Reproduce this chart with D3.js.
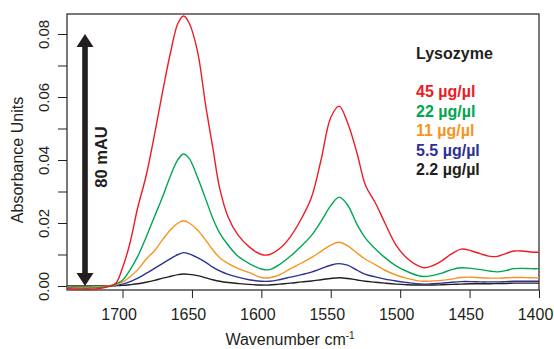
<!DOCTYPE html>
<html>
<head>
<meta charset="utf-8">
<script src="https://cdn.jsdelivr.net/npm/d3@7"></script>
<style>
  body { margin: 0; background: #fff; }
  svg text { font-family: "Liberation Sans", Arial, sans-serif; fill: #231f20; }
</style>
</head>
<body>
<div id="chart"></div>
<script>
var wavenumbers = [1740, 1725, 1712, 1705, 1700, 1695, 1689, 1683, 1677, 1671, 1665, 1660, 1656, 1652, 1646, 1640, 1635, 1630, 1624, 1617, 1609, 1600, 1594, 1587, 1579, 1571, 1564, 1557, 1550, 1544, 1538, 1531, 1525, 1518, 1511, 1503, 1495, 1488, 1483, 1477, 1470, 1463, 1456, 1449, 1442, 1435, 1430, 1424, 1418, 1412, 1406, 1400];

var abs45 = [-0.0008, -0.0011, -0.0004, 0.0008, 0.0058, 0.013, 0.025, 0.035, 0.048, 0.062, 0.075, 0.0835, 0.0857, 0.0835, 0.0745, 0.057, 0.044, 0.031, 0.022, 0.0163, 0.0125, 0.0100, 0.0100, 0.0118, 0.0157, 0.0215, 0.028, 0.040, 0.0535, 0.0571, 0.052, 0.042, 0.032, 0.0265, 0.020, 0.013, 0.0088, 0.0066, 0.0058, 0.0064, 0.0080, 0.0102, 0.0117, 0.0112, 0.0102, 0.0094, 0.0094, 0.0103, 0.0111, 0.0111, 0.0108, 0.0107];
var abs22 = [-0.0005, -0.0007, -0.0002, 0.0006, 0.0018, 0.0048, 0.0095, 0.0155, 0.022, 0.0285, 0.0355, 0.0402, 0.0419, 0.0405, 0.0345, 0.0275, 0.0215, 0.0168, 0.0130, 0.0095, 0.0072, 0.0054, 0.0052, 0.0068, 0.0095, 0.0128, 0.0160, 0.0205, 0.0255, 0.0282, 0.0258, 0.0195, 0.0152, 0.0118, 0.0090, 0.0064, 0.0046, 0.0034, 0.0030, 0.0033, 0.0041, 0.0052, 0.0058, 0.0056, 0.0052, 0.0047, 0.0045, 0.0049, 0.0055, 0.0056, 0.0055, 0.0055];
var abs11 = [-0.0003, -0.0004, -0.0001, 0.0004, 0.0012, 0.0028, 0.0052, 0.0085, 0.0112, 0.0148, 0.0180, 0.0200, 0.0207, 0.0200, 0.0178, 0.0145, 0.0115, 0.0090, 0.0072, 0.0056, 0.0043, 0.0027, 0.0026, 0.0035, 0.0055, 0.0073, 0.0090, 0.0110, 0.0130, 0.0139, 0.0128, 0.0104, 0.0085, 0.0068, 0.0050, 0.0035, 0.0024, 0.0017, 0.0015, 0.0016, 0.0018, 0.0022, 0.0027, 0.0028, 0.0026, 0.0025, 0.0025, 0.0026, 0.0027, 0.0027, 0.0026, 0.0026];
var abs5_5 = [-0.0002, -0.0002, 0, 0.0002, 0.0006, 0.0013, 0.0025, 0.0040, 0.0056, 0.0072, 0.0088, 0.0100, 0.0106, 0.0102, 0.0090, 0.0075, 0.0060, 0.0048, 0.0037, 0.0028, 0.0020, 0.0015, 0.0015, 0.0020, 0.0028, 0.0036, 0.0044, 0.0055, 0.0066, 0.0071, 0.0066, 0.0050, 0.0037, 0.0029, 0.0022, 0.0016, 0.0011, 0.0007, 0.0006, 0.0007, 0.0009, 0.0012, 0.0014, 0.0014, 0.0013, 0.0013, 0.0013, 0.0014, 0.0015, 0.0015, 0.0015, 0.0015];
var abs2_2 = [0, 0, 0, 0.0001, 0.0002, 0.0004, 0.0007, 0.0012, 0.0018, 0.0025, 0.0031, 0.0036, 0.0038, 0.0037, 0.0033, 0.0026, 0.0020, 0.0015, 0.0011, 0.0008, 0.0005, 0.0003, 0.0003, 0.0006, 0.0009, 0.0013, 0.0016, 0.0020, 0.0024, 0.0026, 0.0024, 0.0019, 0.0015, 0.0012, 0.0009, 0.0006, 0.0004, 0.0003, 0.0003, 0.0003, 0.0004, 0.0005, 0.0006, 0.0007, 0.0007, 0.0007, 0.0008, 0.0008, 0.0009, 0.0009, 0.0009, 0.0009];

var seriesLabels = ["45 µg/µl", "22 µg/µl", "11 µg/µl", "5.5 µg/µl", "2.2 µg/µl"];
var seriesColors = ["#ed1c24", "#00a651", "#f7941d", "#2e3192", "#231f20"];
var seriesValues = [abs45, abs22, abs11, abs5_5, abs2_2];

var xTicks = [1700, 1650, 1600, 1550, 1500, 1450, 1400];
var yTicks = [0, 0.01, 0.02, 0.03, 0.04, 0.05, 0.06, 0.07, 0.08];

var W = 554, H = 349;
var margin = { top: 14, right: 15, bottom: 59, left: 67 };

var svg = d3.select("#chart").append("svg")
  .attr("width", W)
  .attr("height", H);

var x = d3.scaleLinear().domain([1740, 1400]).range([margin.left, W - margin.right]);
var y = d3.scaleLinear().domain([-0.00127, 0.08635]).range([H - margin.bottom, margin.top]);

// x axis
var gx = svg.append("g")
  .attr("transform", "translate(0," + (H - margin.bottom) + ")")
  .call(d3.axisBottom(x).tickValues(xTicks).tickSize(8).tickSizeOuter(0).tickFormat(d3.format("d")));
gx.select(".domain").remove();
gx.selectAll(".tick line").attr("stroke", "#231f20");
gx.selectAll(".tick text")
  .attr("y", 19).attr("dy", "0.71em").attr("x", -4)
  .style("font-size", "16px");

// y axis, labels turned sideways
var gy = svg.append("g")
  .attr("transform", "translate(" + margin.left + ",0)")
  .call(d3.axisLeft(y).tickValues(yTicks).tickSize(9).tickSizeOuter(0)
    .tickFormat(function (d, i) { return i % 2 === 0 ? d.toFixed(2) : ""; }));
gy.select(".domain").remove();
gy.selectAll(".tick line").attr("stroke", "#231f20");
gy.selectAll(".tick text")
  .attr("x", 0).attr("y", -18).attr("dy", null)
  .attr("text-anchor", "middle")
  .attr("transform", "rotate(-90)")
  .style("font-size", "15px");

// frame
svg.append("rect")
  .attr("x", x(1740)).attr("y", margin.top)
  .attr("width", x(1400) - x(1740))
  .attr("height", H - margin.bottom - margin.top)
  .attr("fill", "none").attr("stroke", "#231f20").attr("stroke-width", 1.2);

// spectra
var line = d3.line()
  .x(function (d) { return x(d[0]); })
  .y(function (d) { return y(d[1]); })
  .curve(d3.curveCatmullRom.alpha(0.5));

seriesValues.slice().reverse().forEach(function (vals, k) {
  var i = seriesValues.length - 1 - k;
  svg.append("path")
    .datum(wavenumbers.map(function (w, j) { return [w, vals[j]]; }))
    .attr("fill", "none")
    .attr("stroke", seriesColors[i])
    .attr("stroke-width", 1.4)
    .attr("d", line);
});

// 80 mAU double arrow
var ax = 85, yTop = y(0.08), yBot = y(0), hw = 8.5, hh = 13, sw = 2.8;
svg.append("path")
  .attr("d", "M" + ax + "," + yTop + " L" + (ax + hw) + "," + (yTop + hh) + " L" + (ax + sw) + "," + (yTop + hh) +
    " L" + (ax + sw) + "," + (yBot - hh) + " L" + (ax + hw) + "," + (yBot - hh) + " L" + ax + "," + yBot +
    " L" + (ax - hw) + "," + (yBot - hh) + " L" + (ax - sw) + "," + (yBot - hh) + " L" + (ax - sw) + "," + (yTop + hh) +
    " L" + (ax - hw) + "," + (yTop + hh) + "Z")
  .attr("fill", "#231f20");

svg.append("text")
  .attr("transform", "translate(107,157) rotate(-90)")
  .attr("text-anchor", "middle")
  .style("font-size", "16.5px").style("font-weight", "bold")
  .text("80 mAU");

// axis titles
svg.append("text")
  .attr("transform", "translate(23,160) rotate(-90)")
  .attr("text-anchor", "middle")
  .style("font-size", "16px")
  .text("Absorbance Units");

var xt = svg.append("text")
  .attr("x", 290).attr("y", 345)
  .attr("text-anchor", "middle")
  .style("font-size", "16px");
xt.append("tspan").text("Wavenumber cm");
xt.append("tspan").attr("dy", -6).style("font-size", "10px").text("-1");

// legend
svg.append("text")
  .attr("x", 416).attr("y", 59)
  .style("font-size", "16px").style("font-weight", "bold")
  .text("Lysozyme");

seriesLabels.forEach(function (lab, i) {
  svg.append("text")
    .attr("x", 416).attr("y", 97.3 + i * 19.4)
    .style("font-size", "16px").style("font-weight", "bold")
    .style("fill", seriesColors[i])
    .text(lab);
});
</script>
</body>
</html>
